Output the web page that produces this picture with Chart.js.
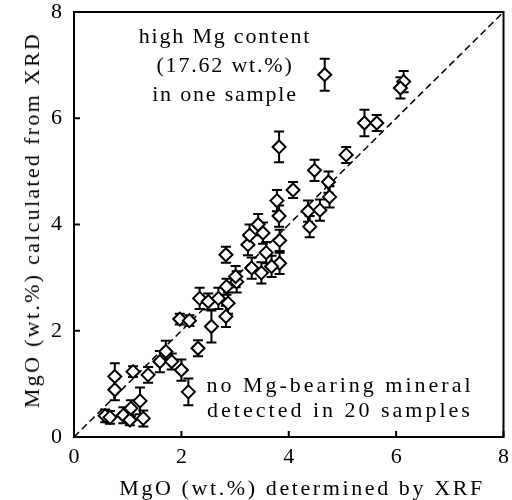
<!DOCTYPE html>
<html>
<head>
<meta charset="utf-8">
<script src="https://cdn.jsdelivr.net/npm/chart.js@4/dist/chart.umd.min.js"></script>
<style>
  body { margin: 0; background: #fff; }
  #wrap { position: relative; width: 512px; height: 500px; font-family: "Times New Roman", Times, "Liberation Serif", serif; color: #000; }
  .lbl { position: absolute; white-space: nowrap; transform: translate(-50%, -50%); line-height: 1; text-align: center; font-size: 22px; }
</style>
</head>
<body>
<div id="wrap">
  <canvas id="chart" width="512" height="500"></canvas>
  <div class="lbl" style="left:302px; top:488px; letter-spacing:2.6px;">MgO (wt.%) determined by XRF</div>
  <div class="lbl" style="left:32px; top:220px; letter-spacing:2.3px; transform: translate(-50%, -50%) rotate(-90deg);">MgO (wt.%) calculated from XRD</div>
  <div class="lbl" style="left:225px; top:64px; line-height:29px; letter-spacing:1.8px;">high Mg content<br>(17.62 wt.%)<br>in one sample</div>
  <div class="lbl" style="left:340px; top:397px; line-height:25px; letter-spacing:3px;">no Mg-bearing mineral<br>detected in 20 samples</div>
</div>
<script>
// MgO by XRF (x), MgO calculated from XRD (y), error of XRD value
var xrf = [0.58, 0.67, 0.92, 1.04, 1.06, 1.23, 1.29, 0.76, 0.76, 1.10,
           1.38, 1.60, 1.71, 1.82, 2.00, 2.13, 1.97, 2.15, 2.31, 2.34,
           2.50, 2.56, 2.69, 2.87, 2.83, 2.84, 3.03, 2.83, 3.01, 3.31,
           3.49, 3.58, 3.83, 3.24, 3.27, 3.83, 3.43, 3.82, 3.78, 4.08,
           4.36, 4.58, 4.39, 4.76, 4.74, 4.48, 5.07, 3.82, 4.67, 5.41,
           5.64, 6.14, 6.08, 3.68, 3.52];
var xrd = [0.40, 0.37, 0.41, 0.32, 0.54, 0.68, 0.35, 0.89, 1.14, 1.23,
           1.17, 1.42, 1.61, 1.42, 1.26, 0.85, 2.22, 2.19, 1.67, 2.61,
           2.55, 2.08, 2.61, 2.52, 2.27, 2.83, 2.92, 3.43, 3.02, 3.18,
           3.09, 3.47, 3.27, 3.62, 3.80, 3.70, 4.00, 4.16, 4.45, 4.65,
           4.25, 4.27, 3.96, 4.52, 4.80, 5.02, 5.31, 5.46, 6.82, 5.91,
           5.91, 6.69, 6.57, 3.21, 3.84];
var xrdErr = [0.12, 0.12, 0.15, 0.10, 0.15, 0.25, 0.15, 0.20, 0.25, 0.10,
              0.15, 0.20, 0.20, 0.15, 0.20, 0.25, 0.10, 0.10, 0.15, 0.20,
              0.15, 0.30, 0.20, 0.20, 0.20, 0.15, 0.20, 0.15, 0.20, 0.20,
              0.20, 0.20, 0.20, 0.20, 0.20, 0.20, 0.20, 0.20, 0.20, 0.15,
              0.20, 0.20, 0.20, 0.20, 0.20, 0.20, 0.15, 0.29, 0.30, 0.25,
              0.15, 0.20, 0.20, 0.20, 0.20];
var tickValues = [0, 2, 4, 6, 8];
var oneToOne = [0, 8];

var points = xrf.map(function (v, i) { return { x: v, y: xrd[i] }; });
var diag = oneToOne.map(function (v) { return { x: v, y: v }; });

/* vertical error bars, inward ticks and the frame */
var extras = {
  id: "extras",
  beforeDatasetsDraw: function (chart) {
    var ctx = chart.ctx, xs = chart.scales.x, ys = chart.scales.y;
    ctx.save();
    ctx.strokeStyle = "#000";
    ctx.lineWidth = 2;
    points.forEach(function (p, i) {
      var px = xs.getPixelForValue(p.x);
      var top = ys.getPixelForValue(p.y + xrdErr[i]);
      var bot = ys.getPixelForValue(p.y - xrdErr[i]);
      ctx.beginPath();
      ctx.moveTo(px, top); ctx.lineTo(px, bot);
      ctx.moveTo(px - 5, top); ctx.lineTo(px + 5, top);
      ctx.moveTo(px - 5, bot); ctx.lineTo(px + 5, bot);
      ctx.stroke();
    });
    ctx.restore();
  },
  afterDraw: function (chart) {
    var ctx = chart.ctx, a = chart.chartArea, xs = chart.scales.x, ys = chart.scales.y;
    ctx.save();
    ctx.strokeStyle = "#000";
    ctx.lineWidth = 2;
    ctx.strokeRect(a.left, a.top, a.right - a.left, a.bottom - a.top);
    ctx.beginPath();
    tickValues.forEach(function (v) {
      var px = xs.getPixelForValue(v);
      ctx.moveTo(px, a.bottom); ctx.lineTo(px, a.bottom - 6);
      var py = ys.getPixelForValue(v);
      ctx.moveTo(a.left, py); ctx.lineTo(a.left + 6, py);
    });
    ctx.stroke();
    ctx.restore();
  }
};

var tickFont = { family: "'Times New Roman', Times, 'Liberation Serif', serif", size: 22, lineHeight: 1 };

new Chart(document.getElementById("chart"), {
  type: "scatter",
  data: {
    datasets: [
      {
        data: points,
        order: 0,
        pointStyle: "rectRot",
        pointRadius: 6.5,
        pointHoverRadius: 6.5,
        backgroundColor: "#fff",
        borderColor: "#000",
        borderWidth: 2
      },
      {
        type: "line",
        data: diag,
        order: 1,
        borderColor: "#000",
        borderWidth: 1.5,
        borderDash: [7, 4],
        pointRadius: 0,
        fill: false
      }
    ]
  },
  options: {
    responsive: false,
    animation: false,
    events: [],
    layout: { padding: { top: 12, right: 4, left: 0, bottom: 0 } },
    plugins: { legend: { display: false }, tooltip: { enabled: false } },
    scales: {
      x: {
        type: "linear",
        min: 0, max: 8,
        afterFit: function (s) { s.height = 63; s.paddingLeft = 0; s.paddingRight = 0; },
        afterBuildTicks: function (s) { s.ticks = tickValues.map(function (v) { return { value: v }; }); },
        grid: { display: false, drawTicks: false },
        border: { display: true, color: "#000", width: 2 },
        ticks: { color: "#000", font: tickFont, padding: 9, maxRotation: 0 }
      },
      y: {
        type: "linear",
        min: 0, max: 8,
        afterFit: function (s) { s.width = 74; s.paddingTop = 0; s.paddingBottom = 0; },
        afterBuildTicks: function (s) { s.ticks = tickValues.map(function (v) { return { value: v }; }); },
        grid: { display: false, drawTicks: false },
        border: { display: true, color: "#000", width: 2 },
        ticks: { color: "#000", font: tickFont, padding: 12 }
      }
    }
  },
  plugins: [extras]
});
</script>
</body>
</html>
